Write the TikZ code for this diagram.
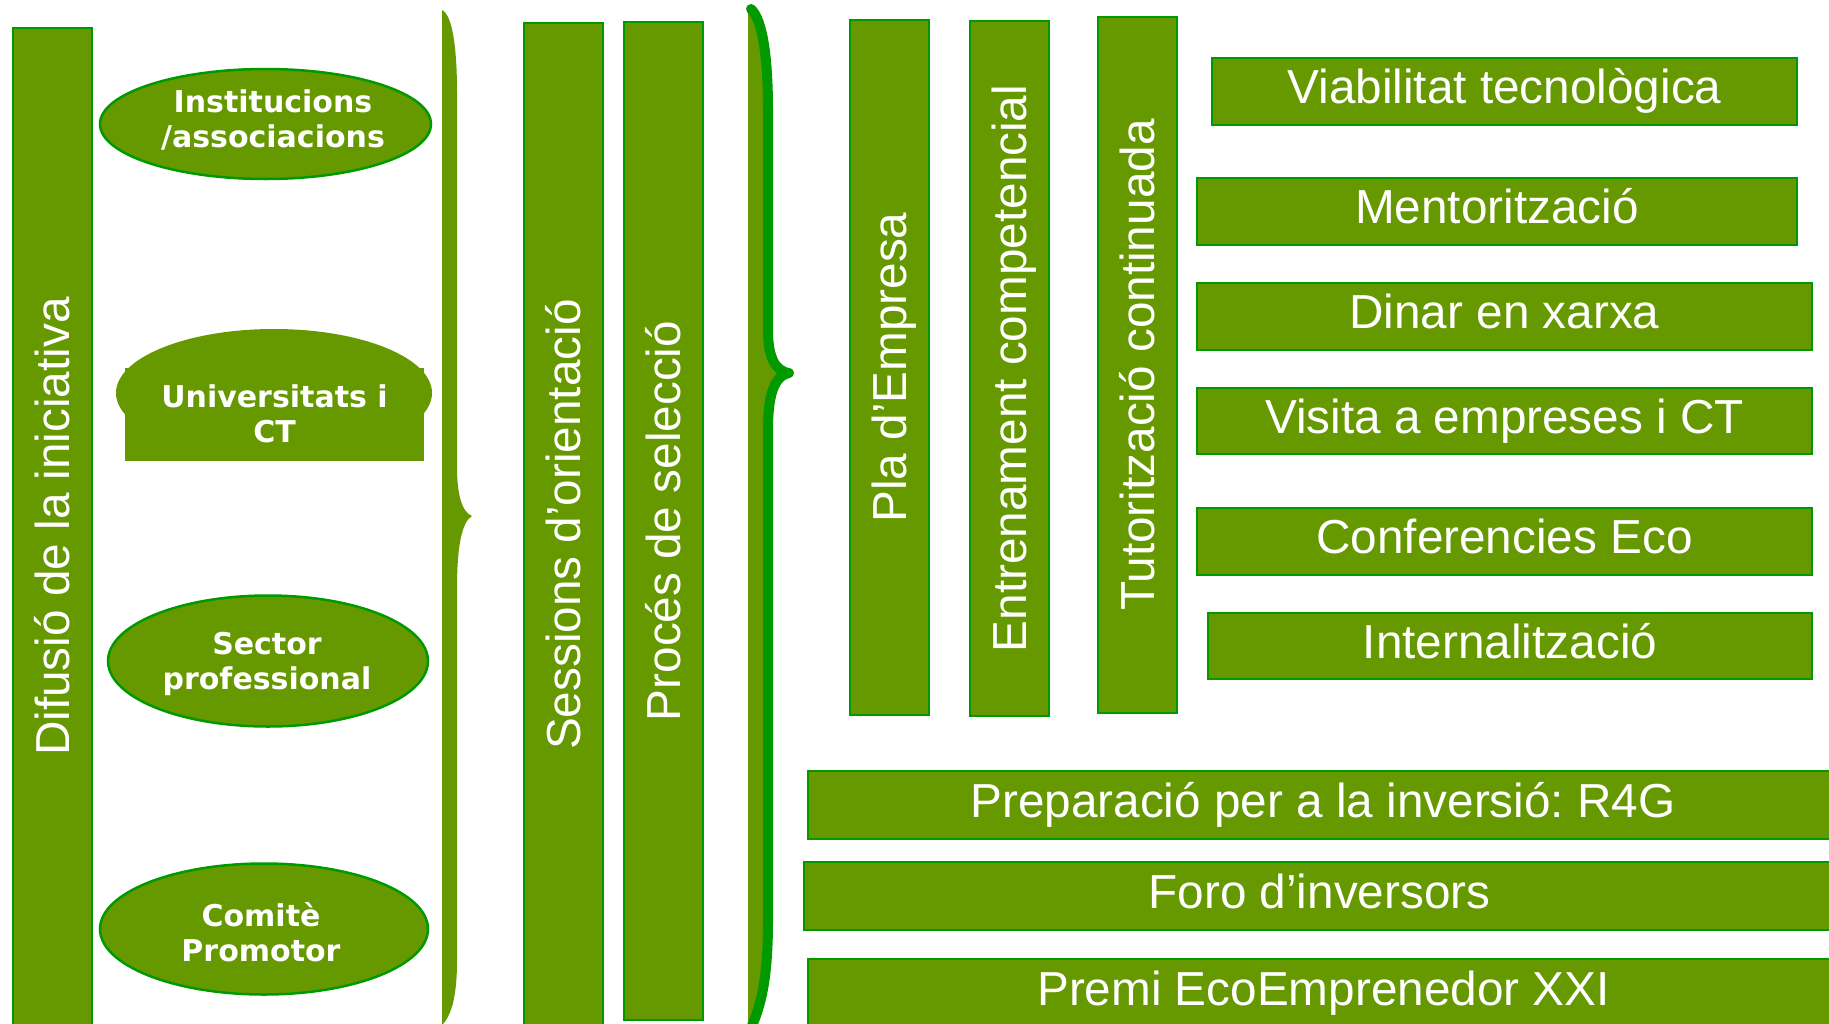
\documentclass[tikz,border=0pt]{standalone}
\usepackage{fontspec}
\setmainfont{Liberation Sans}
\newfontfamily\ellfont{DejaVu Sans}
\usetikzlibrary{shapes.geometric}
\definecolor{boxfill}{HTML}{669900}
\definecolor{boxline}{HTML}{009900}
\frenchspacing
\tikzset{
  bar/.style={draw=boxline, line width=2.5pt, fill=boxfill, text=white,
    font=\fontsize{47.7}{57}\selectfont, inner sep=0pt, rotate=90,
    text height=34pt, text depth=0pt},
  hbox/.style={draw=boxline, line width=2.5pt, fill=boxfill, text=white,
    font=\fontsize{47.7}{57}\selectfont, inner sep=0pt,
    text height=34pt, text depth=10pt},
  oval/.style={ellipse, draw=boxline, line width=2.5pt, fill=boxfill, inner sep=0pt},
  plainfill/.style={fill=boxfill, inner sep=0pt, draw=none},
  ovaltext/.style={text=white, font=\ellfont\bfseries\fontsize{30}{35}\selectfont,
    align=center, inner sep=0pt},
}
\begin{document}
\frenchspacing
\begin{tikzpicture}[x=1pt,y=-1pt]
\path[use as bounding box] (0,0) rectangle (1829,1023);
\clip (0,0) rectangle (1829,1023);
\fill[white] (0,0) rectangle (1829,1023);

% left column bar
\node[bar, minimum width=997pt, minimum height=79pt] (difusio) at (52.5,526.5) {Difusió de la iniciativa};

% ellipses
\node[oval, minimum width=331pt, minimum height=110pt] (inst) at (265.5,124) {};
\node[ovaltext] (instt) at (273,122) {\vphantom{Ip}Institucions\\\vphantom{Ip}/associacions};

\node[ellipse, plainfill, minimum width=316pt, minimum height=128pt] (univell) at (274,393) {};
\node[rectangle, plainfill, minimum width=299pt, minimum height=93pt] (univrect) at (274.5,414.5) {};
\node[ovaltext] (univt) at (274.5,417) {\vphantom{Ip}Universitats i\\\vphantom{Ip}CT};

\node[oval, minimum width=320pt, minimum height=131pt] (sector) at (268,661) {};
\node[ovaltext] (sectort) at (267,663.5) {\vphantom{Ip}Sector\\\vphantom{Ip}professional};

\node[oval, minimum width=328pt, minimum height=131pt] (comite) at (264,929) {};
\node[ovaltext] (comitet) at (261,935.5) {\vphantom{Ip}Comitè\\\vphantom{Ip}Promotor};

% first brace (filled)
\fill[boxfill] (442,10) .. controls (452,15) and (457,45) .. (457,93)
  -- (457,467) .. controls (457,495) and (462,512) .. (472,516)
  .. controls (462,522) and (457,545) .. (457,589)
  -- (457,960) .. controls (457,995) and (452,1015) .. (442,1025) -- cycle;

% middle bars
\node[bar, minimum width=1003pt, minimum height=79pt] (sessions) at (563.5,524.5) {Sessions d’orientació};
\node[bar, minimum width=998pt, minimum height=79pt] (proces) at (663.5,521) {Procés de selecció};

% second brace (filled + thick outline)
\fill[boxfill] (751,9) .. controls (763,20) and (768,60) .. (768,110)
  -- (768,330) .. controls (768,355) and (774,371) .. (789,373)
  .. controls (774,376) and (768,395) .. (768,430)
  -- (768,920) .. controls (768,975) and (762,1005) .. (750,1030)
  -- (748,1030) -- (748,6) -- cycle;
\draw[boxline, line width=10pt, line cap=round, line join=round]
  (751,9) .. controls (763,20) and (768,60) .. (768,110)
  -- (768,330) .. controls (768,355) and (774,371) .. (789,373)
  .. controls (774,376) and (768,395) .. (768,430)
  -- (768,920) .. controls (768,975) and (762,1005) .. (750,1030);

% vertical bars of the right part
\node[bar, minimum width=695pt, minimum height=79pt] (pla) at (889.5,367.5) {Pla d’Empresa};
\node[bar, minimum width=695pt, minimum height=79pt] (entrenament) at (1009.5,368.5) {Entrenament competencial};
\node[bar, minimum width=696pt, minimum height=79pt] (tutoritzacio) at (1137.5,365) {Tutorització continuada};

% horizontal boxes
\node[hbox, minimum width=585pt, minimum height=67pt] (viab) at (1504.5,91.5) {Viabilitat tecnològica};
\node[hbox, minimum width=600pt, minimum height=67pt] (mentor) at (1497,211.5) {Mentorització};
\node[hbox, minimum width=615pt, minimum height=67pt] (dinar) at (1504.5,316.5) {Dinar en xarxa};
\node[hbox, minimum width=615pt, minimum height=66pt] (visita) at (1504.5,421) {Visita a empreses i CT};
\node[hbox, minimum width=615pt, minimum height=67pt] (confer) at (1504.5,541.5) {Conferencies Eco};
\node[hbox, minimum width=604pt, minimum height=66pt] (intern) at (1510,646) {Internalització};

\node[hbox, minimum width=1030pt, minimum height=68pt] (prep) at (1323,805) {Preparació per a la inversió: R4G};
\node[hbox, minimum width=1031pt, minimum height=68pt] (foro) at (1319.5,896) {Foro d’inversors};
\node[hbox, minimum width=1031pt, minimum height=68pt] (premi) at (1323.5,993) {Premi EcoEmprenedor XXI};
\end{tikzpicture}
\end{document}
